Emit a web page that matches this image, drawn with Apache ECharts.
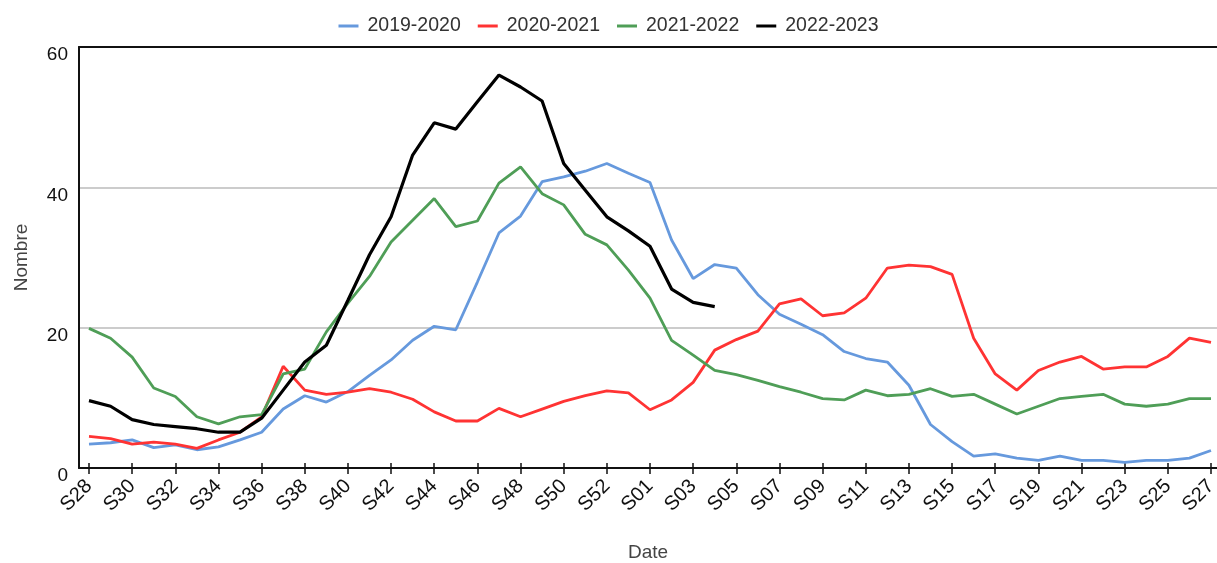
<!DOCTYPE html>
<html>
<head>
<meta charset="utf-8">
<title>Nombre par semaine</title>
<script src="https://cdn.jsdelivr.net/npm/echarts@6/dist/echarts.min.js"></script>
<style>
  html, body { margin: 0; padding: 0; background: #fff; }
  #chart { width: 1217px; height: 563px; }
</style>
</head>
<body>
<div id="chart"></div>
<script>
// Season weeks: S28 to S53, then S01 to S27
const weeks = [
  'S28','S29','S30','S31','S32','S33','S34','S35','S36','S37','S38','S39','S40',
  'S41','S42','S43','S44','S45','S46','S47','S48','S49','S50','S51','S52','S53',
  'S01','S02','S03','S04','S05','S06','S07','S08','S09','S10','S11','S12','S13',
  'S14','S15','S16','S17','S18','S19','S20','S21','S22','S23','S24','S25','S26','S27'
];

const season1920 = [
  3.4, 3.6, 4.0, 2.9, 3.3, 2.6, 3.0, 4.0, 5.1, 8.4, 10.3, 9.4, 10.9,
  13.2, 15.4, 18.2, 20.2, 19.7, 26.5, 33.5, 35.9, 40.8, 41.5, 42.3, 43.4, 42.0,
  40.7, 32.5, 27.0, 29.0, 28.5, 24.7, 21.9, 20.5, 19.0, 16.6, 15.6, 15.1, 11.8,
  6.2, 3.75, 1.7, 2.0, 1.4, 1.1, 1.7, 1.1, 1.1, 0.8, 1.1, 1.1, 1.4, 2.5
];

const season2021 = [
  4.5, 4.2, 3.4, 3.7, 3.4, 2.8, 4.0, 5.1, 7.3, 14.5, 11.1, 10.5, 10.8,
  11.3, 10.8, 9.8, 8.0, 6.7, 6.7, 8.5, 7.3, 8.4, 9.5, 10.3, 11.0, 10.7,
  8.3, 9.7, 12.2, 16.8, 18.3, 19.5, 23.4, 24.1, 21.7, 22.1, 24.2, 28.5, 28.9,
  28.7, 27.6, 18.5, 13.4, 11.1, 13.9, 15.1, 15.9, 14.1, 14.4, 14.4, 15.9, 18.5, 17.9
];

const season2122 = [
  19.9, 18.5, 15.8, 11.4, 10.2, 7.3, 6.3, 7.3, 7.6, 13.4, 14.1, 19.4, 23.5,
  27.3, 32.2, 35.3, 38.4, 34.4, 35.2, 40.6, 42.9, 39.1, 37.5, 33.3, 31.8, 28.2,
  24.2, 18.2, 16.1, 13.9, 13.3, 12.5, 11.6, 10.8, 9.9, 9.7, 11.1, 10.3, 10.5,
  11.3, 10.2, 10.5, 9.1, 7.7, 8.8, 9.9, 10.2, 10.5, 9.1, 8.8, 9.1, 9.9, 9.9
];

const season2223 = [
  9.6, 8.8, 6.9, 6.2, 5.9, 5.6, 5.1, 5.1, 7.1, 11.1, 15.1, 17.5, 23.9,
  30.4, 35.8, 44.6, 49.2, 48.3, 52.2, 56.0, 54.3, 52.3, 43.4, 39.6, 35.8, 33.8,
  31.6, 25.5, 23.6, 23.0
];

const yTicks = [0, 20, 40, 60];

// Labelled / ticked weeks: every other week starting at S28
const labelIdx = weeks.map((w, i) => i).filter(i => i % 2 === 0);

const FONT = 'Arial, "Liberation Sans", sans-serif';
const X_MIN = -0.4634;
const X_MAX = 52.278;

const toPairs = arr => arr.map((v, i) => [i, v]);

const chart = echarts.init(document.getElementById('chart'), null, { renderer: 'canvas' });

const baseX = {
  type: 'value',
  min: X_MIN,
  max: X_MAX,
  splitLine: { show: false },
  axisLabel: { show: false },
  axisTick: { show: false },
  axisLine: { show: false }
};

chart.setOption({
  animation: false,
  backgroundColor: '#ffffff',
  textStyle: { fontFamily: FONT },
  legend: {
    top: 11,
    left: 'center',
    icon: 'rect',
    itemWidth: 20,
    itemHeight: 3,
    itemGap: 17,
    textStyle: { fontSize: 19.5, color: '#333', fontFamily: FONT, padding: [0, 0, 0, 4] },
    data: ['2019-2020', '2020-2021', '2021-2022', '2022-2023']
  },
  grid: {
    left: 79, right: 0, top: 47, bottom: 95,
    containLabel: false,
    outerBoundsMode: 'none'
  },
  xAxis: [
    Object.assign({}, baseX, {
      position: 'bottom',
      name: 'Date',
      nameLocation: 'middle',
      nameGap: 75,
      nameTextStyle: { fontSize: 19, color: '#444', fontFamily: FONT },
      axisLine: { show: true, onZero: false, lineStyle: { color: '#111', width: 2 } },
      axisTick: {
        show: true, length: 6, inside: false,
        customValues: labelIdx,
        lineStyle: { color: '#111', width: 1.5 }
      },
      axisLabel: {
        show: true,
        customValues: labelIdx,
        formatter: v => weeks[Math.round(v)] || '',
        rotate: 45,
        margin: 15,
        fontSize: 20,
        color: '#111',
        fontFamily: FONT
      }
    }),
    Object.assign({}, baseX, {
      position: 'top',
      axisLine: { show: true, onZero: false, lineStyle: { color: '#111', width: 2 } }
    }),
    Object.assign({}, baseX, {
      position: 'bottom',
      axisTick: {
        show: true, length: 5, inside: true,
        customValues: labelIdx,
        lineStyle: { color: '#111', width: 1.5 }
      }
    })
  ],
  yAxis: {
    type: 'value',
    min: yTicks[0],
    max: yTicks[yTicks.length - 1],
    interval: 20,
    name: 'Nombre',
    nameLocation: 'middle',
    nameGap: 48,
    nameTextStyle: { fontSize: 19, color: '#444', fontFamily: FONT },
    axisLine: { show: true, onZero: false, lineStyle: { color: '#111', width: 2 } },
    axisTick: { show: false },
    axisLabel: {
      fontSize: 19,
      color: '#111',
      margin: 11,
      verticalAlign: 'top',
      lineHeight: 16,
      fontFamily: FONT
    },
    splitLine: { show: true, lineStyle: { color: '#cccccc', width: 2 } }
  },
  series: [
    {
      name: '2019-2020', type: 'line', xAxisIndex: 0, symbol: 'none',
      data: toPairs(season1920),
      itemStyle: { color: '#6699dd' },
      lineStyle: { color: '#6699dd', width: 2.8 }
    },
    {
      name: '2020-2021', type: 'line', xAxisIndex: 0, symbol: 'none',
      data: toPairs(season2021),
      itemStyle: { color: '#ff3333' },
      lineStyle: { color: '#ff3333', width: 2.8 }
    },
    {
      name: '2021-2022', type: 'line', xAxisIndex: 0, symbol: 'none',
      data: toPairs(season2122),
      itemStyle: { color: '#4f9e57' },
      lineStyle: { color: '#4f9e57', width: 2.8 }
    },
    {
      name: '2022-2023', type: 'line', xAxisIndex: 0, symbol: 'none',
      data: toPairs(season2223),
      itemStyle: { color: '#000000' },
      lineStyle: { color: '#000000', width: 3.2 }
    }
  ]
});
</script>
</body>
</html>
